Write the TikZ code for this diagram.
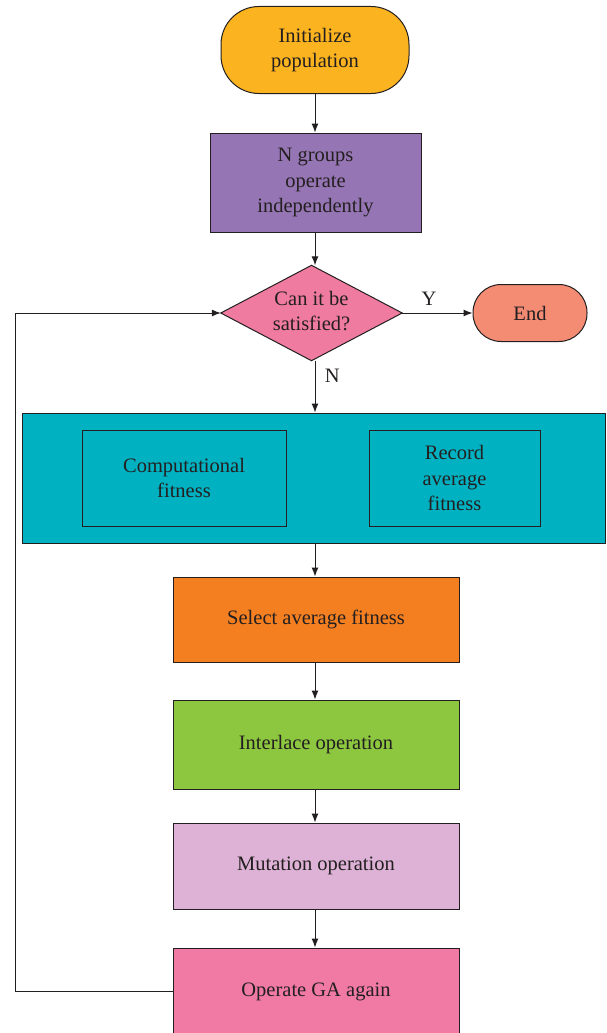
\documentclass[tikz,border=0pt]{standalone}
\usepackage{fontspec}
\setmainfont{Liberation Serif}
\usetikzlibrary{arrows.meta}

\definecolor{cInit}{HTML}{FBB41F}
\definecolor{cGroup}{HTML}{9575B3}
\definecolor{cDec}{HTML}{F07BA0}
\definecolor{cEnd}{HTML}{F48B73}
\definecolor{cTeal}{HTML}{00B2C1}
\definecolor{cSel}{HTML}{F47F20}
\definecolor{cCross}{HTML}{8DC63F}
\definecolor{cMut}{HTML}{DDB2D6}
\definecolor{cAgain}{HTML}{F07AA3}
\definecolor{cText}{HTML}{231F20}
\definecolor{cLine}{HTML}{231F20}

\tikzset{
  base/.style={draw=cLine, line width=1pt, text=cText, align=center,
    inner sep=0pt, font=\fontsize{20.5}{25.5}\selectfont},
  proc/.style={base, minimum width=286pt, minimum height=86pt},
  flow/.style={draw=cLine, line width=1pt, -{Latex[length=9pt,width=7pt]}},
  lbl/.style={text=cText, font=\fontsize{20.5}{25.5}\selectfont}
}

\begin{document}
\begin{tikzpicture}[x=1pt,y=-1pt]
  \useasboundingbox (0,0) rectangle (606,1033);

  % start terminal
  \node[base, fill=cInit, rounded corners=38pt, minimum width=188pt,
        minimum height=87pt] (init) at (315,50) {Initialize\\population};

  % parallel groups
  \node[base, fill=cGroup, minimum width=211pt, minimum height=99pt]
        (groups) at (315.5,182.5) {N groups\\operate\\independently};

  % decision (diamond drawn on the anchors of a plain node)
  \node[minimum width=181pt, minimum height=95pt, inner sep=0pt]
        (dec) at (311.5,313) {};
  \draw[cLine, fill=cDec, line width=1pt]
        (dec.west) -- (dec.north) -- (dec.east) -- (dec.south) -- cycle;
  \node[lbl, align=center] (dectext) at (311.5,311) {Can it be\\satisfied?};

  % end terminal
  \node[base, fill=cEnd, rounded corners=28pt, minimum width=114pt,
        minimum height=57pt] (end) at (530,313) {End};

  % fitness evaluation block
  \node[base, fill=cTeal, minimum width=583pt, minimum height=130pt]
        (eval) at (313.5,478) {};
  \node[base, fill=cTeal, minimum width=204pt, minimum height=96pt]
        (comp) at (184,478) {Computational\\fitness};
  \node[base, fill=cTeal, minimum width=171pt, minimum height=96pt]
        (rec) at (454.5,478) {Record\\average\\fitness};

  % GA steps
  \node[proc, fill=cSel, minimum height=85pt] (sel) at (316,619.5) {Select average fitness};
  \node[proc, fill=cCross, minimum height=89pt] (cross) at (316,744.5) {Interlace operation};
  \node[proc, fill=cMut, minimum height=86pt] (mut) at (316,866) {Mutation operation};
  \node[proc, fill=cAgain, minimum height=88pt] (again) at (316,992) {Operate GA again};

  % connectors
  \draw[flow] (init.south -| 315,0) -- (groups.north -| 315,0);
  \draw[flow] (groups.south -| 315,0) -- (dec.north -| 315,0);
  \draw[flow] (dec.east) -- node[lbl, above=4pt, pos=0.38] (ylab) {Y} (end.west);
  \draw[flow] (dec.south -| 315,0) -- node[lbl, right=6pt, pos=0.3] (nlab) {N} (eval.north -| 315,0);
  \draw[flow] (eval.south -| 315,0) -- (sel.north -| 315,0);
  \draw[flow] (sel.south -| 315,0) -- (cross.north -| 315,0);
  \draw[flow] (cross.south -| 315,0) -- (mut.north -| 315,0);
  \draw[flow] (mut.south -| 315,0) -- (again.north -| 315,0);

  % feedback loop
  \coordinate (loopL) at (15,991);
  \draw[flow] (again.west |- loopL) -- (loopL) |- (dec.west);
\end{tikzpicture}
\end{document}
